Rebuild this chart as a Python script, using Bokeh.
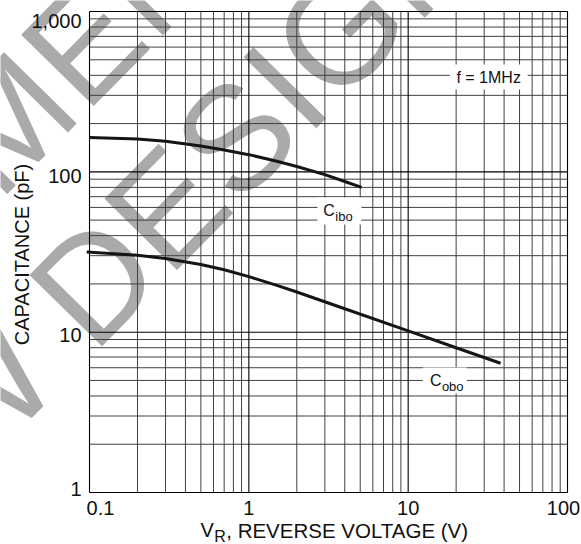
from bokeh.plotting import figure
from bokeh.models import Label, Range1d
from bokeh.embed import file_html
from bokeh.resources import INLINE

# ---------------- data ----------------
vr_ibo = [0.1, 0.2, 0.3, 0.5, 0.7, 1.0, 1.5, 2.0, 3.0, 4.0, 5.1]
c_ibo = [164, 160, 155, 145, 137, 128, 116.5, 108, 96, 87, 80]

vr_obo = [0.096, 0.2, 0.3, 0.5, 0.7, 1.0, 1.5, 2.0, 4.0, 10.0, 20.0, 38.0]
c_obo = [31.6, 30.2, 28.8, 26.4, 24.5, 22.2, 19.6, 17.8, 14.0, 10.2, 8.0, 6.4]

x_major = [0.1, 1, 10, 100]
x_minor = [0.2, 0.3, 0.4, 0.5, 0.6, 0.7, 0.8, 0.9,
           2, 3, 4, 5, 6, 7, 8, 9,
           20, 30, 40, 50, 60, 70, 80, 90]
x_tick_labels = ["0.1", "1", "10", "100"]

y_major = [1, 10, 100, 1000]
y_minor = [2, 3, 4, 5, 6, 7, 8, 9,
           20, 30, 40, 50, 60, 70, 80, 90,
           200, 300, 400, 500, 600, 700, 800, 900]
y_tick_labels = ["1", "10", "100", "1,000"]

x_title = ["V", "R", ", REVERSE VOLTAGE (V)"]
y_title = "CAPACITANCE (pF)"
curve_names = [("C", "ibo"), ("C", "obo")]
freq_note = "f = 1MHz"
watermark = ["NOT RECOMMENDED FOR", "NEW DESIGN"]

FONT = "Liberation Sans"

# ---------------- figure: the frame spans the whole canvas ----------------
p = figure(width=581, height=544, x_axis_type="log", y_axis_type="log",
           x_range=Range1d(0.027627, 122.42), y_range=Range1d(0.47394, 1171.3),
           x_axis_location=None, y_axis_location=None,
           output_backend="svg", toolbar_location=None, min_border=0)
p.grid.visible = False
p.outline_line_color = None
p.background_fill_color = "white"
p.border_fill_color = "white"

x_lo, x_hi = x_major[0], x_major[-1]
y_lo, y_hi = y_major[0], y_major[-1]

# ---------------- watermark (bottom layer) ----------------
for txt, wx, wy in zip(watermark, [0.02578, 0.1559], [176.4, 30.6]):
    p.add_layout(Label(x=wx, y=wy, text=txt, angle=45.5, angle_units="deg",
                       text_align="center", text_baseline="middle",
                       text_font=FONT, text_font_size="148px",
                       text_color="#aaaaaa", level="image"))

# ---------------- grid lines drawn from the tick lists ----------------
p.segment(x0=x_minor, y0=[y_lo] * len(x_minor), x1=x_minor, y1=[y_hi] * len(x_minor),
          line_color="#404040", line_width=1)
p.segment(x0=[x_lo] * len(y_minor), y0=y_minor, x1=[x_hi] * len(y_minor), y1=y_minor,
          line_color="#404040", line_width=1)
p.segment(x0=x_major, y0=[y_lo] * len(x_major), x1=x_major, y1=[y_hi] * len(x_major),
          line_color="#000000", line_width=1.1)
p.segment(x0=[x_lo] * len(y_major), y0=y_major, x1=[x_hi] * len(y_major), y1=y_major,
          line_color="#000000", line_width=1.1)

# ---------------- white label boxes ----------------
box_x = [3.7, 17, 32]
box_y = [57, 5, 390]
box_w = [44, 44, 78]
box_h = [27, 26, 25]
p.rect(x=box_x, y=box_y, width=box_w, height=box_h,
       width_units="screen", height_units="screen",
       fill_color="white", line_color=None)

# ---------------- curves ----------------
p.line(vr_ibo, c_ibo, line_width=3, line_color="#151515")
p.line(vr_obo, c_obo, line_width=3, line_color="#151515")


def add_label(text, x, y, size, xo=0, yo=0, align="left", angle=0):
    p.add_layout(Label(x=x, y=y, text=text, x_offset=xo, y_offset=yo,
                       text_align=align, text_baseline="middle",
                       angle=angle, angle_units="deg",
                       text_font=FONT, text_font_size=size,
                       text_color="#111111"))


# C_ibo
add_label(curve_names[0][0], box_x[0], box_y[0], "16px", xo=-16, yo=0)
add_label(curve_names[0][1], box_x[0], box_y[0], "13px", xo=-4, yo=-5.8)
# C_obo
add_label(curve_names[1][0], box_x[1], box_y[1], "16px", xo=-15, yo=0)
add_label(curve_names[1][1], box_x[1], box_y[1], "13px", xo=-3, yo=-6)
# f = 1MHz
add_label(freq_note, box_x[2], box_y[2], "16px", align="center")

# ---------------- tick labels ----------------
x_nudge = [11, 0, 0, -4]
for v, t, dx in zip(x_major, x_tick_labels, x_nudge):
    add_label(t, v, y_lo, "20px", xo=dx, yo=-15, align="center")

y_nudge = [4, -3.3, -3.7, -9]
for v, t, dy in zip(y_major, y_tick_labels, y_nudge):
    add_label(t, x_lo, v, "20px", xo=-8, yo=dy, align="right")

# ---------------- axis titles ----------------
add_label(x_title[0], 1, y_lo, "20px", xo=-48.3, yo=-37.5)
add_label(x_title[1], 1, y_lo, "16px", xo=-34.6, yo=-44)
add_label(x_title[2], 1, y_lo, "20.5px", xo=-22.6, yo=-37.5)

add_label(y_title, x_lo, 30.5, "20px", xo=-68, align="center", angle=90)

open("out.html", "w").write(file_html(p, INLINE))
